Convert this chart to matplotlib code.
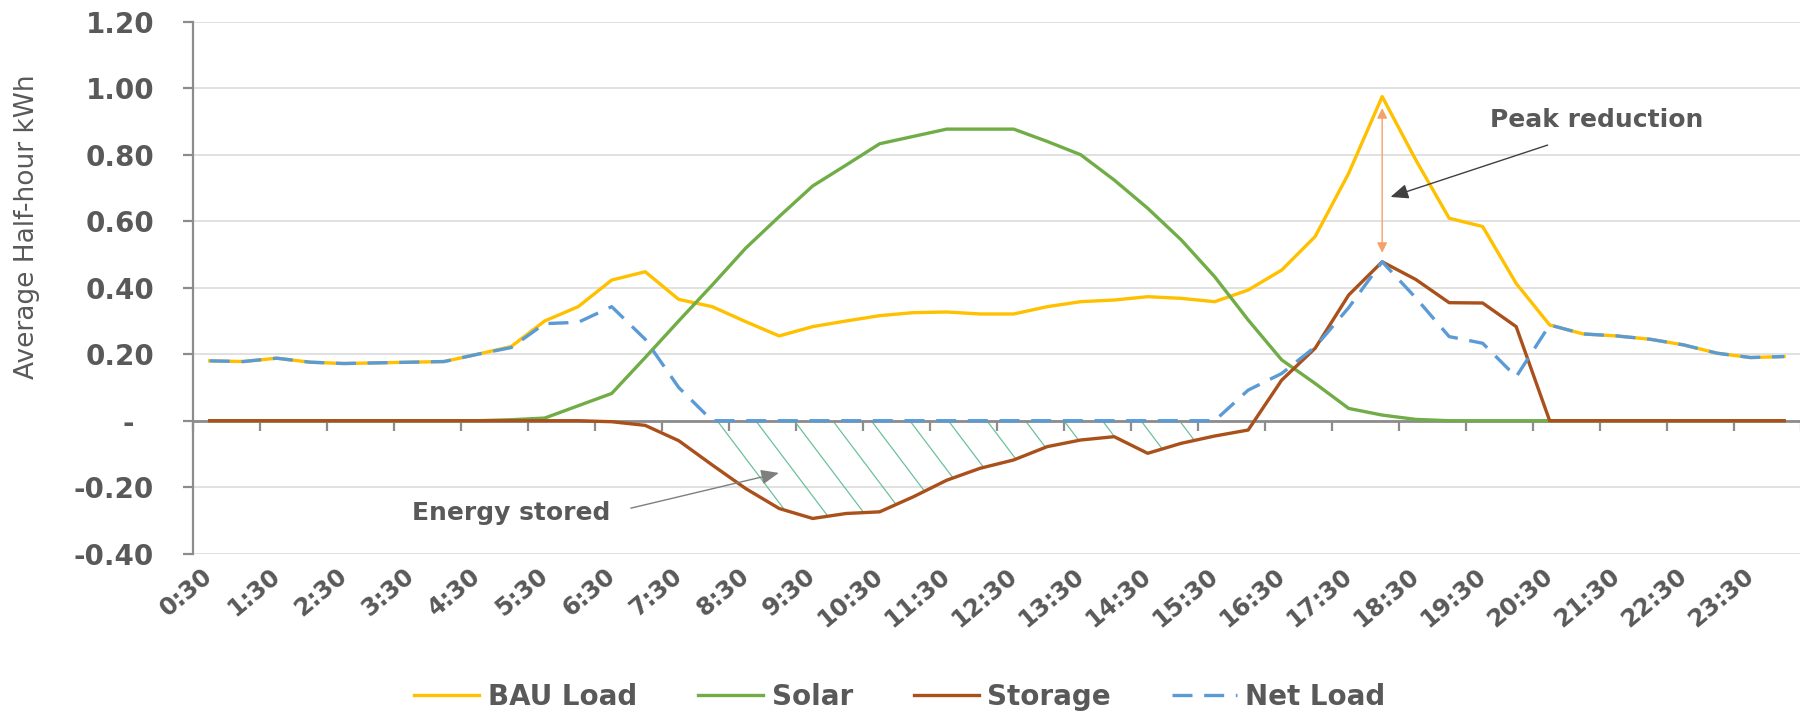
import matplotlib
matplotlib.use("Agg")
import matplotlib.pyplot as plt
import numpy as np

# half-hour slots, values
times = ["0:30", "1:00", "1:30", "2:00", "2:30", "3:00", "3:30", "4:00",
         "4:30", "5:00", "5:30", "6:00", "6:30", "7:00", "7:30", "8:00",
         "8:30", "9:00", "9:30", "10:00", "10:30", "11:00", "11:30", "12:00",
         "12:30", "13:00", "13:30", "14:00", "14:30", "15:00", "15:30", "16:00",
         "16:30", "17:00", "17:30", "18:00", "18:30", "19:00", "19:30", "20:00",
         "20:30", "21:00", "21:30", "22:00", "22:30", "23:00", "23:30", "24:00"]

bau_load = [0.180, 0.178, 0.188, 0.176, 0.172, 0.174, 0.176, 0.178,
            0.200, 0.223, 0.300, 0.343, 0.423, 0.448, 0.365, 0.343,
            0.298, 0.255, 0.283, 0.300, 0.316, 0.325, 0.327, 0.321,
            0.321, 0.343, 0.358, 0.363, 0.373, 0.368, 0.358, 0.393,
            0.453, 0.554, 0.744, 0.975, 0.785, 0.609, 0.584, 0.413,
            0.288, 0.261, 0.255, 0.245, 0.228, 0.203, 0.190, 0.193]

solar = [0, 0, 0, 0, 0, 0, 0, 0,
         0, 0.003, 0.008, 0.045, 0.082, 0.190, 0.300, 0.408,
         0.519, 0.614, 0.706, 0.769, 0.833, 0.855, 0.877, 0.877,
         0.877, 0.840, 0.800, 0.724, 0.639, 0.544, 0.433, 0.303,
         0.183, 0.112, 0.037, 0.017, 0.004, 0, 0, 0,
         0, 0, 0, 0, 0, 0, 0, 0]

storage = [0, 0, 0, 0, 0, 0, 0, 0,
           0, 0, 0, 0, -0.003, -0.014, -0.060, -0.133,
           -0.204, -0.264, -0.294, -0.279, -0.274, -0.229, -0.179, -0.143,
           -0.118, -0.078, -0.058, -0.048, -0.098, -0.068, -0.046, -0.028,
           0.122, 0.218, 0.378, 0.478, 0.425, 0.355, 0.354, 0.283,
           0, 0, 0, 0, 0, 0, 0, 0]

net_load = [0.180, 0.178, 0.188, 0.176, 0.172, 0.174, 0.176, 0.178,
            0.200, 0.220, 0.292, 0.296, 0.343, 0.245, 0.100, 0,
            0, 0, 0, 0, 0, 0, 0, 0,
            0, 0, 0, 0, 0, 0, 0, 0.092,
            0.142, 0.222, 0.340, 0.478, 0.370, 0.253, 0.233, 0.132,
            0.288, 0.261, 0.255, 0.245, 0.228, 0.203, 0.190, 0.193]

ytick_values = [-0.4, -0.2, 0, 0.2, 0.4, 0.6, 0.8, 1.0, 1.2]
ytick_labels = ["-0.40", "-0.20", "-  ", "0.20", "0.40", "0.60", "0.80", "1.00", "1.20"]

grey_text = "#595959"
axis_grey = "#8C8C8C"

x = np.arange(len(times))

fig = plt.figure(figsize=(18, 7.12), dpi=100)
ax = fig.add_axes([0.1072, 0.2223, 0.8933, 0.7472])

ax.plot(x, bau_load, color="#FFC000", lw=2.4, label="BAU Load", zorder=3)
ax.plot(x, solar, color="#70AD47", lw=2.4, label="Solar", zorder=3)
ax.plot(x, storage, color="#A9501B", lw=2.4, label="Storage", zorder=3)
ax.plot(x, net_load, color="#5B9BD5", lw=2.4, ls=(0, (6, 3.5)), label="Net Load", zorder=3)

# hand-style hatching of the stored energy (between 0 and storage curve)
stored = np.array(net_load) == 0
fill = ax.fill_between(x, storage, 0, where=stored, facecolor="none", edgecolor="none")
clip = fill.get_paths()[0]
for c in np.arange(x[stored][0] - 1, x[stored][-1], 1.15):
    ln, = ax.plot([c, c + 3], [0, -0.4], color="#6CC19A", lw=0.9, zorder=2)
    ln.set_clip_path(clip, ax.transData)

ax.set_xlim(-0.5, len(times) - 0.5)
ax.set_ylim(-0.4, 1.2)
ax.set_yticks(ytick_values, ytick_labels, fontsize=20, fontweight="bold", color=grey_text)
ax.grid(axis="y", color="#D9D9D9", lw=1.1)
ax.set_axisbelow(True)
ax.spines["top"].set_visible(False)
ax.spines["right"].set_visible(False)
ax.spines["left"].set_color(axis_grey)
ax.spines["left"].set_linewidth(1.6)
ax.spines["bottom"].set_position(("data", 0))
ax.spines["bottom"].set_color(axis_grey)
ax.spines["bottom"].set_linewidth(2.0)
ax.set_xticks(np.arange(-0.5, len(times), 2))
ax.tick_params(axis="x", length=7, width=1.6, color=axis_grey, labelbottom=False)
ax.tick_params(axis="y", length=7, width=1.6, color=axis_grey, pad=21)

# category labels sit under the plot, not on the zero line
secax = ax.secondary_xaxis("bottom")
secax.set_ticks(x[::2], times[::2], rotation=40, ha="right", va="center",
                rotation_mode="anchor", fontsize=17.5, fontweight="bold", color=grey_text)
secax.tick_params(length=0, pad=14)
secax.spines["bottom"].set_visible(False)

fig.text(27 / 1800, 1 - 227 / 712, "Average Half-hour kWh", rotation=90,
         ha="center", va="center", fontsize=19, color=grey_text)

# annotations
ax.annotate("", xy=(35, 0.94), xytext=(35, 0.505),
            arrowprops=dict(arrowstyle="<|-|>,head_length=0.4,head_width=0.2",
                            color="#F4A26B", lw=1.0, mutation_scale=15,
                            shrinkA=0, shrinkB=0))
ax.text(41.4, 0.904, "Peak reduction", ha="center", va="center",
        fontsize=18, fontweight="bold", color=grey_text)
ax.annotate("", xy=(35.25, 0.673), xytext=(39.94, 0.829),
            arrowprops=dict(arrowstyle="-|>,head_length=0.6,head_width=0.25",
                            color="#404040", lw=1.0, mutation_scale=18,
                            shrinkA=0, shrinkB=0))
ax.text(8.99, -0.278, "Energy stored", ha="center", va="center",
        fontsize=18, fontweight="bold", color=grey_text)
ax.annotate("", xy=(16.99, -0.157), xytext=(12.57, -0.263),
            arrowprops=dict(arrowstyle="-|>,head_length=0.6,head_width=0.25",
                            color="#7F7F7F", lw=1.0, mutation_scale=18,
                            shrinkA=0, shrinkB=0))

leg = fig.legend(loc="center", bbox_to_anchor=(0.5, 15 / 712), ncol=4, frameon=False,
                 prop={"size": 20, "weight": "bold"}, handlelength=2.34,
                 handletextpad=0.3, columnspacing=2.2)
for t in leg.get_texts():
    t.set_color(grey_text)

fig.savefig("out.png", dpi=100)
